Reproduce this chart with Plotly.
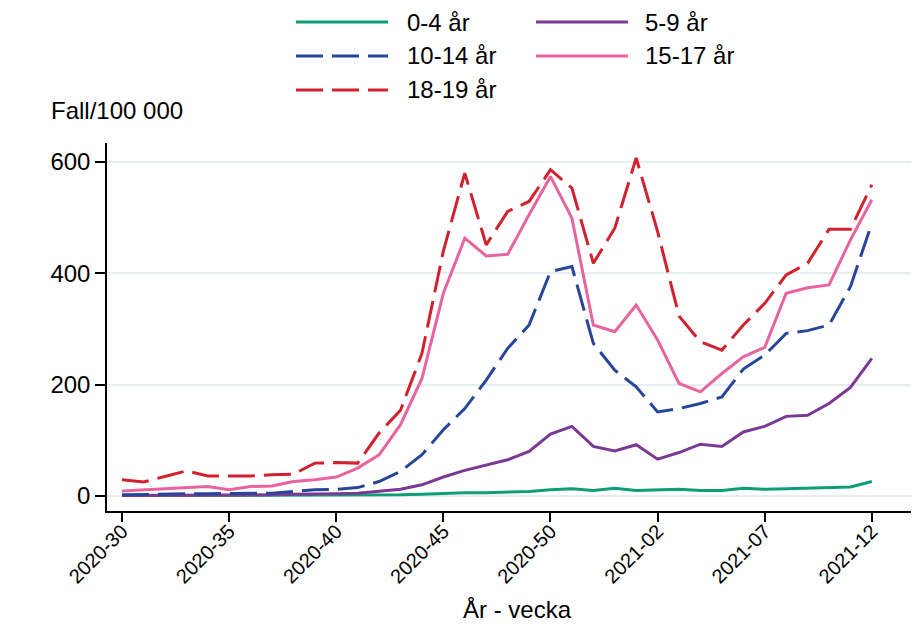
import plotly.graph_objects as go

weeks = [f"2020-{w}" for w in range(30, 54)] + [f"2021-{w:02d}" for w in range(1, 13)]
tick_weeks = ["2020-30", "2020-35", "2020-40", "2020-45", "2020-50", "2021-02", "2021-07", "2021-12"]

age_0_4 = [1, 1, 1, 1, 1, 1, 1, 1, 1, 1, 2, 2,
           2, 2, 3, 5, 6, 6, 7, 8, 11, 13, 10, 14, 10,
           11, 12, 10, 10, 14, 12, 13, 14, 16, 16, 26]
age_5_9 = [1, 1, 1, 2, 2, 2, 2, 2, 3, 3, 4, 5,
           8, 12, 20, 34, 46, 56, 65, 80, 111, 125, 89, 81, 92,
           66, 78, 93, 89, 115, 125, 143, 145, 166, 195, 247]
age_10_14 = [2, 3, 4, 4, 4, 4, 5, 5, 8, 11, 12, 15,
             26, 44, 74, 119, 157, 208, 265, 307, 403, 412, 274, 226, 196,
             151, 157, 166, 178, 228, 253, 292, 297, 307, 376, 490]
age_15_17 = [9, 11, 12, 14, 17, 11, 17, 18, 26, 29, 34, 50,
             74, 128, 211, 364, 463, 431, 434, 505, 574, 499, 307, 295, 343,
             280, 202, 187, 220, 250, 267, 364, 374, 379, 460, 532]
age_18_19 = [29, 25, 35, 45, 36, 36, 36, 38, 39, 59, 60, 59,
             113, 154, 256, 440, 580, 451, 511, 529, 586, 553, 418, 481, 607,
             475, 323, 277, 262, 307, 346, 397, 418, 479, 479, 559]

series_names = ["0-4 år", "5-9 år", "10-14 år", "15-17 år", "18-19 år"]
series_values = [age_0_4, age_5_9, age_10_14, age_15_17, age_18_19]
colors = ["#0f9d78", "#7b3995", "#27459b", "#e8649f", "#d2202e"]
dashes = ["solid", "solid", "27px,9px", "solid", "27px,9px"]

FONT = "Liberation Sans, Arial, sans-serif"

fig = go.Figure()
for name, vals, col, dsh in zip(series_names, series_values, colors, dashes):
    fig.add_trace(go.Scatter(x=weeks, y=vals, mode="lines", name=name,
                             line=dict(color=col, width=3, dash=dsh),
                             showlegend=False))

# page body has an 8px margin; the figure is placed at (8, 8) in the window
OFF = 8
W, H = 919 - OFF, 639 - OFF
L, R, T, B = 107 - OFF, 0, 143 - OFF, 128
pw, ph = W - L - R, H - T - B

def px(x):
    return (x - OFF - L) / pw

def py(y):
    return (H - B - (y - OFF)) / ph

# manual legend (two columns, row-major order), window pixel positions
legend_slots = [(296, 388, 405, 22), (536, 628, 643, 22),
                (296, 388, 405, 56), (536, 628, 643, 56),
                (296, 388, 405, 90)]
for (x0, x1, xt, yy), name, col, dsh in zip(legend_slots, series_names, colors, dashes):
    fig.add_shape(type="line", xref="paper", yref="paper",
                  x0=px(x0), x1=px(x1), y0=py(yy), y1=py(yy),
                  line=dict(color=col, width=3, dash=dsh))
    fig.add_annotation(xref="paper", yref="paper", x=px(xt), y=py(yy),
                       text=name, showarrow=False, xanchor="left", yanchor="middle",
                       font=dict(family=FONT, size=24, color="black"))

fig.add_annotation(xref="paper", yref="paper", x=px(49), y=py(110),
                   text="Fall/100 000", showarrow=False, xanchor="left", yanchor="middle",
                   font=dict(family=FONT, size=24, color="black"))
fig.add_annotation(xref="paper", yref="paper", x=px(517), y=py(609),
                   text="År - vecka", showarrow=False, xanchor="center", yanchor="middle",
                   font=dict(family=FONT, size=24, color="black"))

fig.update_layout(
    width=W, height=H,
    margin=dict(l=L, r=R, t=T, b=B, pad=0),
    paper_bgcolor="white", plot_bgcolor="white",
    font=dict(family=FONT, color="black"),
    showlegend=False,
)
fig.update_xaxes(
    type="category", categoryorder="array", categoryarray=weeks,
    range=[-0.7, 37.2],
    tickmode="array", tickvals=tick_weeks, ticktext=tick_weeks,
    tickangle=-45, tickfont=dict(family=FONT, size=20, color="black"),
    ticklabelstandoff=-10,
    ticks="outside", ticklen=9, tickwidth=1.5, tickcolor="black",
    showline=True, linecolor="black", linewidth=1.5,
    showgrid=False, zeroline=False,
)
fig.update_yaxes(
    range=[-27, 634],
    tickmode="array", tickvals=[0, 200, 400, 600],
    tickfont=dict(family=FONT, size=24, color="black"),
    ticks="outside", ticklen=10, tickwidth=1.5, tickcolor="black",
    showline=True, linecolor="black", linewidth=1.5,
    showgrid=True, gridcolor="#e7eef2", gridwidth=1.5,
    zeroline=False,
)

fig.write_html("out.html")
